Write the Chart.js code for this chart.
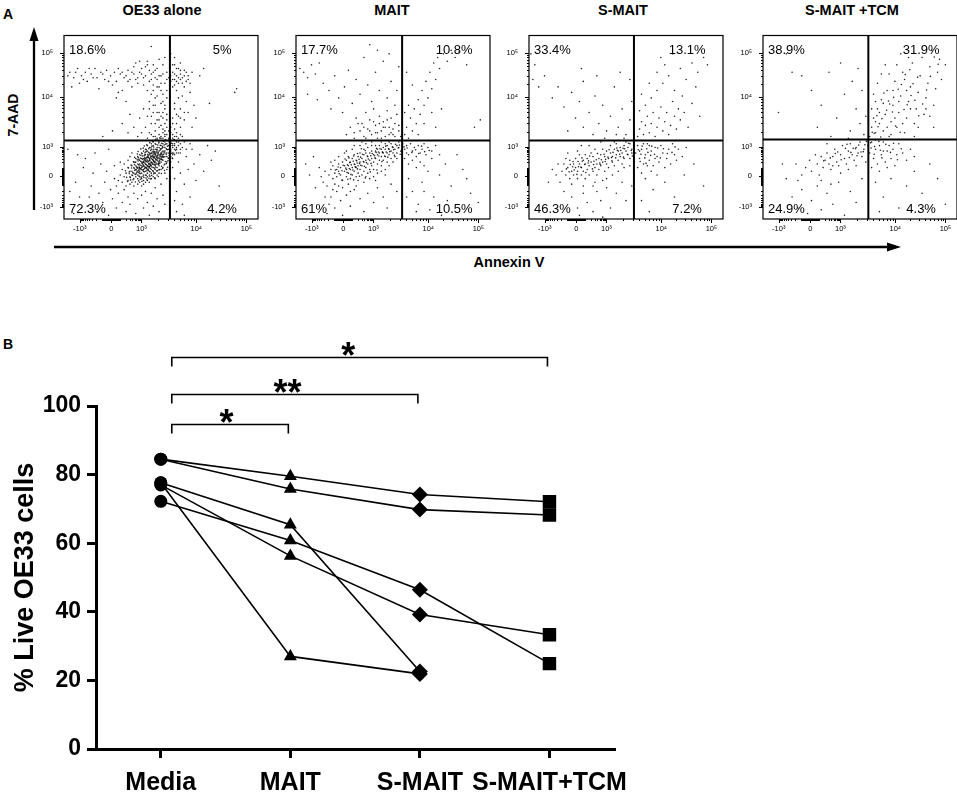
<!DOCTYPE html>
<html>
<head>
<meta charset="utf-8">
<script src="https://cdn.jsdelivr.net/npm/chart.js@4.4.1/dist/chart.umd.min.js"></script>
<style>
  body { margin: 0; background: #fff; }
  #page { position: relative; width: 957px; height: 797px; overflow: hidden; font-family: 'Liberation Sans', Arial, sans-serif; color: #000; }
  .lbl { position: absolute; font-weight: bold; line-height: 1; white-space: nowrap; }
  canvas { position: absolute; }
</style>
</head>
<body>
<div id="page">
  <div class="lbl" style="left:3px;top:7px;font-size:14px">A</div>
  <div class="lbl" style="left:3px;top:337px;font-size:14px">B</div>
  <div class="lbl" style="left:13px;top:115px;font-size:14px;transform:translate(-50%,-50%) rotate(-90deg)">7-AAD</div>
  <div class="lbl" style="left:509px;top:255px;font-size:14.5px;transform:translateX(-50%)">Annexin V</div>
  <svg width="957" height="300" style="position:absolute;left:0;top:0">
    <line x1="34" y1="210" x2="34" y2="38" stroke="#000" stroke-width="2.3"/>
    <polygon points="34,27 29.5,41 38.5,41" fill="#000"/>
    <line x1="54" y1="247" x2="890" y2="247" stroke="#000" stroke-width="2.3"/>
    <polygon points="901,247 887,242.5 887,251.5" fill="#000"/>
  </svg>
</div>
<script>
// ---- panel A: flow plots (dots in display channel units 0-100) ----
const panelTitles = ['OE33 alone', 'MAIT', 'S-MAIT', 'S-MAIT +TCM'];
const quadPct = [
  ['18.6%', '5%', '72.3%', '4.2%'],
  ['17.7%', '10.8%', '61%', '10.5%'],
  ['33.4%', '13.1%', '46.3%', '7.2%'],
  ['38.9%', '31.9%', '24.9%', '4.3%'],
];
const gateX = [54.6, 54.7, 54.1, 54.3];
const gateY = [42.8, 42.8, 42.8, 43.3];
const axisTickText = ['-10³', '0', '10³', '10⁴', '10⁵'];
const xTickPos = [8.1, 24.4, 39.9, 68.2, 94.0];
const yTickPos = [6.4, 23.2, 39.0, 66.5, 90.5];

const oe33Dots = [
  3,80, 5,77, 7,82, 9,78, 11,80, 12,75, 14,79, 16,82, 17,77, 19,80, 21,76, 22,81, 24,78, 26,80, 27,75, 29,79,
  31,77, 33,81, 34,76, 36,79, 38,74, 39,80, 41,77, 42,83, 44,75, 45,79, 47,81, 48,76, 50,78, 51,84, 52,74, 53,80,
  4,72, 8,74, 18,71, 25,73, 30,70, 35,72, 43,70, 46,73, 27,66, 28,69, 32,64, 45,94, 37,85, 40,82, 43,86, 46,84,
  49,87, 52,88, 38,77, 41,73, 44,81, 47,77, 50,74, 53,76,
  2,78, 6,80, 10,76, 13,82, 15,77, 20,79, 23,75, 28,82, 32,78, 35,80, 37,76, 40,79, 42,78, 45,76, 48,82, 51,79,
  54,77, 46,80, 49,78, 43,84, 39,86, 36,83, 33,75, 30,80,
  41,60, 43,56, 44,64, 45,52, 46,58, 47,48, 47,62, 48,54, 48,67, 49,46, 49,58, 50,51, 50,63, 51,47, 51,55, 52,60,
  52,45, 53,50, 53,57, 53,66, 54,48, 44,47, 46,45, 42,50, 50,70, 49,72, 51,68, 45,68, 39,55, 40,47, 43,44, 48,44,
  52,52, 36,50, 38,45, 50,45, 51,49, 53,46, 54,44, 52,48, 49,50, 47,45, 45,46, 30,52, 33,47, 25,48, 20,45, 34,57,
  44,60, 46,62, 48,58, 50,56, 52,62, 47,52, 49,54, 51,58, 53,54, 45,56, 47,66, 51,64, 53,70, 46,70, 48,72,
  56,80, 57,76, 58,78, 59,74, 60,79, 61,77, 62,81, 57,73, 59,82, 63,75, 64,78, 56,84, 60,85, 62,72, 66,80, 65,74,
  58,70, 55,75, 61,67, 63,64, 57,60, 59,56, 56,52, 60,50, 58,47, 62,54, 64,58, 56,46, 57,49, 61,45, 59,44, 66,50,
  68,55, 67,62, 65,69, 70,78, 72,82, 75,63, 89,71, 88,69, 57,88, 55,90, 56,44, 57,45, 58,45, 60,46, 55,47, 55,50,
  58,52, 60,55, 55,78, 56,76, 57,79, 58,75, 59,77, 60,81, 61,74, 62,78, 63,80, 58,82, 57,84, 60,76, 64,76, 56,72,
  59,66, 57,63, 60,60, 58,57, 62,58, 56,55,
  36,25, 37,27, 38,24, 38,28, 39,26, 39,30, 40,25, 40,28, 40,31, 41,27, 41,29, 41,24, 42,26, 42,30, 42,32, 42,28,
  43,27, 43,29, 43,31, 43,34, 43,25, 44,28, 44,30, 44,32, 44,35, 44,26, 45,29, 45,31, 45,33, 45,27, 45,36, 46,28,
  46,30, 46,32, 46,34, 46,37, 47,31, 47,33, 47,35, 47,29, 47,38, 48,32, 48,34, 48,36, 48,30, 48,39, 49,33, 49,35,
  49,37, 49,31, 50,34, 50,36, 50,38, 50,40, 51,35, 51,37, 51,39, 51,41, 52,37, 52,39, 52,42, 53,38, 53,41, 54,40,
  54,43, 37,23, 38,22, 39,23, 40,22, 41,21, 35,24, 36,22, 34,23, 35,26, 37,29, 39,28, 41,33, 42,35, 43,37, 45,38,
  46,40, 44,24, 45,25, 46,26, 47,27, 48,28, 49,29, 50,31, 51,32, 52,34, 53,36, 54,38, 41,31, 42,24, 43,23, 40,29,
  39,32, 40,33, 44,33, 46,35, 48,37, 50,33, 47,36, 49,39, 45,34, 43,32, 42,33, 44,36, 46,38, 50,35, 51,34, 52,36,
  48,38, 47,25, 49,27, 38,30, 36,28, 37,31, 38,26, 39,25, 40,27, 41,26,
  40.5,28.5, 41.5,30.5, 42.5,29.5, 43.5,31.5, 44.5,30.5, 45.5,32.5, 46.5,33.5, 47.5,34.5, 48.5,35.5, 42.5,27.5,
  43.5,28.5, 44.5,29.5, 45.5,30.5, 46.5,31.5, 47.5,32.5, 48.5,33.5, 49.5,34.5, 41.5,32.5, 42.5,33.5, 43.5,34.5,
  44.5,35.5, 45.5,36.5, 39.5,27.5, 40.5,26.5, 41.5,27.5, 43.5,26.5, 44.5,27.5, 46.5,29.5, 47.5,30.5, 49.5,32.5,
  50.5,33.5, 38.5,29.5, 39.5,31.5, 40.5,32.5, 41.5,34.5, 43.5,33.5, 45.5,34.5, 47.5,36.5, 49.5,37.5, 50.5,36.5,
  37.5,25.5, 38.5,26.5, 42.5,31.5, 44.5,33.5, 46.5,35.5, 48.5,31.5, 50.5,38.5, 51.5,36.5, 36.5,26.5, 40.5,30.5,
  35.3,23.7, 36.7,24.3, 37.3,26.7, 38.7,27.3, 39.3,24.7, 40.7,23.3, 41.3,25.7, 42.7,26.3, 43.3,28.7, 44.7,29.3,
  45.3,28.3, 46.7,30.7, 47.3,28.3, 48.7,29.7, 49.3,30.3, 50.7,32.3, 51.3,33.7, 52.7,35.3, 53.3,37.7, 54.7,39.3,
  36.3,29.7, 37.7,32.3, 38.3,33.3, 39.7,34.7, 40.3,35.7, 41.7,35.3, 42.3,36.7, 43.7,38.3, 44.7,37.3, 45.3,39.7,
  46.3,36.3, 47.7,37.7, 48.3,40.3, 49.7,38.3, 50.3,41.3, 51.7,40.3, 52.3,43.3, 39.3,21.7, 42.3,22.3, 44.3,23.3,
  46.3,24.7, 48.3,26.3, 50.3,28.7, 52.3,31.3, 53.7,33.3, 34.3,21.3, 33.7,24.7, 32.3,22.7, 31.7,26.3, 41.7,28.3,
  42.3,29.7, 43.7,30.3, 44.3,31.7, 45.7,32.3, 46.3,33.3, 47.7,33.7, 48.3,34.7, 49.7,35.3, 50.3,35.7, 40.3,30.3,
  41.3,31.7, 42.7,32.7, 43.3,33.7, 44.7,34.3, 45.3,35.7, 46.7,36.7, 38.7,28.3, 39.3,29.3, 40.7,29.7, 37.7,27.7,
  38.3,25.3, 44.3,25.7, 45.7,26.3, 46.7,27.7, 47.3,29.7, 48.7,30.3, 49.3,31.7, 50.7,34.3, 51.3,35.3, 52.7,38.3,
  53.3,39.7, 55.3,41.3, 56.7,43.3, 54.3,41.7,
  33.2,27.8, 34.6,29.4, 35.8,31.2, 36.4,33.6, 37.8,35.4, 38.2,36.8, 39.6,38.2, 40.8,38.6, 41.4,39.8, 42.6,40.4,
  44.2,41.6, 45.8,42.2, 47.2,43.4, 49.4,44.2, 32.8,20.4, 34.2,22.6, 35.6,21.4, 36.8,20.2, 38.4,20.8, 40.2,20.6,
  42.8,21.4, 44.6,21.8, 46.8,22.4, 48.6,23.2, 50.2,24.8, 51.8,26.4, 53.4,28.2, 54.6,30.8, 55.8,33.2, 56.6,35.8,
  57.6,37.4, 37.2,24.6, 38.6,23.4, 39.8,22.8, 41.2,22.6, 42.4,23.8, 43.8,22.2, 45.2,23.8, 46.4,25.2, 47.8,26.2,
  49.2,26.8, 50.8,27.6, 51.6,29.4, 52.8,30.2, 53.6,31.8, 54.2,34.6, 55.4,35.8, 38.2,31.6, 39.4,33.2, 40.6,34.4,
  41.8,36.2, 42.4,37.8, 43.6,36.4, 44.8,38.8, 46.2,39.2, 47.4,40.6, 48.8,41.4, 49.6,40.2, 50.8,39.6, 51.2,42.4,
  52.4,40.8, 53.8,42.6, 41.2,28.8, 42.6,28.2, 43.4,27.2, 44.2,28.6, 45.6,29.8, 46.2,31.4, 47.4,32.2, 48.2,32.8,
  49.4,33.8, 50.2,32.4, 45.2,30.6, 43.8,29.6, 42.2,31.2, 41.6,33.4, 44.2,32.6, 46.8,34.2, 48.6,36.2, 47.2,35.4,
  45.8,33.8, 43.2,35.2, 40.8,31.2, 39.2,27.2, 38.6,32.4, 36.2,27.4, 35.4,25.2, 34.8,27.8, 33.6,25.6, 36.6,30.8,
  37.4,28.4,
  30,20, 31,23, 32,18, 32,25, 33,21, 33,28, 34,19, 34,26, 35,29, 35,20, 36,31, 36,18, 37,33, 38,19, 38,34, 39,20,
  39,35, 40,18, 40,36, 41,19, 41,37, 42,20, 42,38, 43,21, 43,40, 44,20, 44,39, 45,22, 45,41, 46,23, 46,42, 47,22,
  47,41, 48,24, 48,43, 49,25, 49,42, 50,27, 50,44, 51,28, 51,44, 52,30, 52,46, 53,31, 53,34, 54,33, 54,36, 55,37,
  55,40, 56,39, 56,41, 57,40, 57,43, 58,42, 58,38, 55,34, 56,36, 57,35, 59,40, 60,38, 59,36, 29,24, 28,21, 30,27,
  31,30, 27,18, 26,22, 33,32, 34,34, 35,36, 53,27, 55,31, 52,25, 56,33,
  5,3, 8,12, 10,28, 12,7, 14,18, 15,25, 17,4, 18,14, 19,30, 20,9, 21,20, 22,26, 23,2, 24,16, 25,11, 26,29, 27,6,
  28,14, 29,31, 30,9, 31,16, 32,4, 33,12, 34,8, 36,14, 37,3, 38,11, 40,13, 41,6, 42,15, 43,9, 44,2, 45,14, 46,7,
  47,17, 48,11, 49,4, 50,19, 51,13, 52,8, 53,22, 6,20, 11,33, 16,36, 23,38, 13,12, 9,6, 3,15, 2,38, 7,35,
  56,28, 57,22, 58,15, 59,31, 60,25, 61,8, 62,19, 63,34, 64,27, 65,12, 66,38, 67,30, 68,21, 70,35, 72,26, 74,40,
  76,32, 78,37, 80,18, 58,4, 62,2, 57,10, 55,38, 56,40, 57,41, 58,39, 59,42, 60,41, 61,39, 62,42, 56,35, 58,36,
  60,36, 63,38, 65,41, 55,42, 57,38,
];

const maitDots = [
  17,24, 18,27, 19,22, 19,29, 20,25, 21,27, 21,23, 22,30, 22,26, 23,24, 23,28, 24,31, 24,21, 25,26, 25,29, 26,23,
  26,27, 26,32, 27,25, 27,29, 27,34, 28,22, 28,27, 28,31, 29,24, 29,28, 29,33, 30,26, 30,30, 30,35, 31,23, 31,28,
  31,32, 32,25, 32,29, 32,34, 33,27, 33,31, 33,36, 34,24, 34,29, 34,33, 35,26, 35,31, 35,35, 35,38, 36,28, 36,32,
  36,36, 37,25, 37,30, 37,34, 37,39, 38,27, 38,32, 38,36, 39,29, 39,33, 39,37, 39,40, 40,31, 40,35, 40,27, 41,33,
  41,37, 41,40, 42,30, 42,35, 42,38, 43,32, 43,36, 43,40, 44,34, 44,38, 44,29, 45,36, 45,39, 45,32, 46,34, 46,38,
  46,41, 47,36, 47,40, 47,31, 48,35, 48,38, 49,37, 49,41, 49,33, 50,36, 50,39, 51,38, 51,34, 52,40, 52,36, 53,39,
  53,42, 54,37, 28.5,29.5, 30.5,28.5, 31.5,30.5, 27.5,27.5, 29.5,31.5, 32.5,32.5, 26.5,29.5, 40.5,34.5, 42.5,36.5,
  44.5,36.5, 38.5,34.5, 41.5,38.5, 46.5,36.5,
  20.3,26.7, 21.7,28.3, 22.3,24.7, 23.7,26.3, 24.3,29.3, 25.7,27.7, 26.3,25.3, 27.7,30.7, 28.3,24.3, 29.3,26.7,
  30.7,28.3, 31.3,31.7, 32.7,30.3, 33.3,33.7, 34.7,31.3, 35.3,28.7, 36.7,34.3, 37.3,32.7, 38.7,30.3, 39.3,35.7,
  40.7,33.3, 41.3,36.3, 42.7,34.3, 43.3,38.3, 44.7,36.3, 45.7,34.3, 46.3,39.7, 47.7,38.3, 48.3,36.7, 49.7,39.3,
  50.3,37.7, 51.3,40.7, 52.7,38.7, 53.3,40.3, 25.3,32.7, 27.3,33.3, 29.7,34.3, 31.7,35.7, 33.7,38.3, 35.7,37.3,
  23.7,21.3, 26.7,21.7, 29.7,21.3, 32.7,23.3, 35.7,22.3, 38.3,25.7, 41.7,26.7, 44.3,31.3, 47.3,33.7, 50.7,34.7,
  53.7,35.3, 30.3,29.7, 31.7,27.3, 33.3,29.3, 34.3,35.3, 36.3,30.7,
  14,20, 15,26, 16,18, 18,31, 20,19, 22,34, 24,17, 25,36, 27,19, 29,38, 31,18, 33,40, 35,20, 36,41, 38,22, 40,23,
  42,25, 44,26, 46,27, 48,29, 50,31, 52,33, 13,23, 12,28, 20,32, 26,37, 30,40, 34,42, 39,42, 44,42, 48,42, 32,21,
  36,23, 41,21, 46,24,
  16,3, 17,8, 18,12, 20,6, 21,15, 23,10, 24,2, 26,13, 28,7, 30,16, 33,11, 35,4, 37,14, 40,9, 42,17, 45,12, 47,6,
  49,19, 52,15, 19,16, 15,12, 22,18, 28,15, 10,17, 7,24, 5,30, 9,34,
  56,38, 57,40, 58,35, 59,41, 60,37, 61,39, 62,34, 63,40, 64,36, 65,38, 66,41, 67,35, 68,39, 70,37, 72,40, 74,35,
  56,33, 58,30, 60,32, 62,28, 64,31, 66,29, 70,33, 55,41, 57,36, 57.3,38.7, 59.7,36.3, 61.7,37.7, 63.3,35.7,
  64.7,39.7, 66.3,36.7, 68.7,37.3, 55.7,39.3,
  58,22, 60,15, 63,8, 65,20, 68,26, 71,12, 74,24, 77,30, 80,18, 83,35, 86,27, 90,14, 94,9, 62,4, 69,5, 75,2, 57,12,
  66,15, 78,10, 88,22,
  26,46, 28,50, 30,44, 31,55, 33,48, 34,52, 35,45, 36,58, 37,49, 38,54, 39,46, 40,60, 41,51, 42,44, 43,56, 44,48,
  45,53, 46,45, 47,59, 48,50, 49,55, 50,46, 51,52, 52,57, 53,48, 54,45, 36,44, 41,47, 46,50, 50,49, 44,44, 48,46,
  30,47, 32,52, 35,50, 38,48, 40,53, 42,47, 45,50, 47,54, 49,47, 51,45, 53,51, 43,52,
  2,82, 4,80, 6,77, 8,84, 10,79, 12,85, 14,74, 17,70, 20,78, 22,66, 25,72, 27,81, 29,63, 31,76, 33,68, 35,88, 37,73,
  39,64, 41,80, 43,70, 45,86, 47,66, 49,75, 51,62, 53,83, 18,60, 24,58, 11,65, 6,68, 42,92, 38,95, 52,70, 48,90,
  56,46, 57,50, 58,44, 59,55, 60,48, 61,60, 62,52, 63,65, 64,57, 65,70, 66,62, 67,75, 68,66, 69,80, 70,71, 71,85,
  72,76, 73,88, 74,82, 76,90, 78,86, 80,92, 82,88, 84,91, 88,84, 95,54, 92,50, 58,62, 60,73, 57,80, 56,58, 70,58,
  75,60, 66,52, 63,46, 72,50,
];

const smaitDots = [
  17,26, 18,30, 19,24, 20,28, 21,32, 21,22, 22,26, 23,30, 23,24, 24,28, 24,33, 25,22, 25,26, 26,30, 26,35, 27,24,
  27,28, 28,32, 28,26, 29,22, 29,30, 29,35, 30,27, 30,33, 31,24, 31,29, 32,31, 32,36, 33,26, 33,34, 34,28, 34,38,
  35,30, 35,24, 36,33, 36,27, 37,35, 37,29, 38,31, 38,38, 39,26, 39,34, 40,30, 40,37, 41,33, 41,28, 42,36, 42,40,
  43,31, 43,34, 44,38, 44,29, 45,35, 45,41, 46,32, 46,37, 47,39, 47,34, 48,36, 48,30, 49,40, 49,33, 50,37, 50,42,
  51,35, 51,39, 52,41, 52,33, 53,38, 53,36, 54,40, 54,34, 25.5,28.5, 27.5,31.5, 30.5,30.5, 33.5,31.5, 36.5,30.5,
  39.5,32.5, 42.5,33.5, 45.5,37.5, 48.5,38.5, 22.5,28.5,
  19.3,27.3, 20.7,25.7, 21.3,29.7, 22.7,31.3, 23.3,26.7, 24.7,24.3, 25.3,31.3, 26.7,28.3, 27.3,33.3, 28.7,29.7,
  29.3,25.3, 30.7,31.7, 31.3,34.3, 32.7,27.3, 33.3,29.7, 34.7,32.3, 35.3,35.7, 36.7,29.7, 37.3,32.3, 38.7,35.3,
  39.3,31.3, 40.7,33.7, 41.3,37.7, 42.7,31.7, 43.3,36.3, 44.7,33.3, 45.3,38.7, 46.7,35.3, 47.3,37.3, 48.7,33.7,
  49.3,38.3, 50.7,35.3, 51.3,41.3, 52.7,37.3, 53.3,34.3,
  14,24, 15,30, 16,20, 19,33, 22,19, 25,37, 28,18, 31,40, 34,20, 37,42, 40,22, 43,24, 46,26, 49,28, 52,29, 12,27,
  20,36, 27,40, 33,18, 38,21, 44,42,
  22,12, 25,6, 28,14, 30,9, 33,4, 35,15, 37,10, 40,17, 42,6, 45,14, 48,20, 50,10, 18,15, 26,2, 38,1, 53,18, 10,20,
  55,36, 56,40, 57,33, 58,38, 59,30, 60,35, 61,41, 62,32, 63,37, 64,29, 65,39, 66,34, 67,31, 68,40, 69,36, 70,28,
  71,33, 72,38, 73,30, 74,41, 75,35, 76,32, 77,38, 79,34, 81,39, 56,28, 58,25, 60,22, 63,26, 66,24, 59,41, 62,40,
  57,37, 61,29, 65,33, 56.3,37.7, 57.7,35.3, 58.3,39.7, 59.7,33.3, 60.7,38.3, 61.3,36.3, 62.7,34.7, 63.3,39.7,
  64.7,35.3, 66.3,38.7, 67.7,33.3, 69.3,38.3, 71.3,35.7, 73.7,36.3, 75.3,39.3, 57.3,31.3, 60.3,30.3,
  58,10, 64,16, 70,20, 75,12, 80,24, 85,30, 62,4, 90,18,
  56,45, 57,49, 58,53, 59,46, 60,51, 61,56, 62,47, 63,52, 64,58, 65,45, 66,50, 67,55, 68,61, 69,48, 70,53, 71,58,
  72,46, 73,51, 74,64, 75,56, 76,49, 77,60, 78,54, 79,67, 80,58, 82,50, 84,63, 86,72, 88,56, 60,62, 63,66, 66,70,
  69,74, 72,78, 75,70, 78,82, 81,76, 84,85, 87,80, 90,88, 92,84, 70,84, 66,80, 62,74, 58,68, 57,59, 74,90, 68,88,
  2,76, 5,72, 8,78, 12,66, 15,72, 18,61, 22,69, 26,64, 28,75, 31,58, 34,67, 36,52, 38,62, 40,48, 42,56, 44,72,
  46,50, 48,60, 50,46, 52,54, 53,64, 49,44, 45,46, 39,44, 33,46, 28,50, 24,55, 20,48, 3,84, 1,90, 27,82, 35,78,
  47,80, 52,76, 54,47,
];

const tcmDots = [
  28,30, 30,34, 31,28, 32,32, 33,36, 34,30, 35,27, 36,34, 37,38, 38,31, 39,29, 40,35, 41,40, 42,33, 43,30, 44,37,
  45,41, 46,35, 47,32, 48,39, 49,36, 50,42, 51,34, 52,38, 53,31, 54,40, 55,36, 56,42, 57,33, 58,38, 59,30, 60,40,
  61,35, 62,42, 63,31, 64,37, 65,40, 66,33, 67,38, 68,29, 69,35, 70,41, 72,36, 74,32, 76,38, 78,34, 56,28, 60,26,
  64,28, 58,43, 62,37, 25,26, 27,35, 29,24, 33,41, 36,29, 40,25, 44,27, 48,29, 22,28, 20,24, 24,32, 18,21,
  46.5,38.5, 50.5,36.5, 52.5,40.5, 44.5,33.5, 48.5,34.5, 57.5,39.5, 60.5,37.5, 55.5,41.5, 42.5,38.5, 38.5,36.5,
  45.3,36.3, 47.7,38.3, 49.3,40.3, 51.7,36.7, 53.3,42.3, 55.7,38.7, 57.3,35.3, 59.7,42.3, 61.3,33.3, 63.3,40.7,
  65.7,36.3, 67.3,41.3, 69.3,32.3, 71.3,38.3, 40.3,32.3, 37.3,35.7, 34.7,33.3, 31.3,31.7, 43.3,40.7,
  15,12, 18,6, 20,16, 23,3, 25,10, 28,18, 30,5, 33,14, 36,8, 39,20, 42,2, 45,15, 48,9, 51,22, 12,22, 10,30, 17,30,
  30,21, 35,19,
  58,20, 62,12, 66,22, 70,6, 74,18, 78,26, 82,14, 86,30, 90,22, 94,8, 60,4,
  55,45, 56,50, 57,55, 58,47, 59,60, 60,52, 61,65, 62,48, 63,57, 64,70, 65,45, 66,53, 67,62, 68,75, 69,50, 70,58,
  71,67, 72,80, 73,47, 74,55, 75,64, 76,72, 77,85, 78,52, 79,60, 80,69, 81,78, 82,88, 83,57, 84,66, 85,74, 86,83,
  87,92, 88,62, 89,71, 90,80, 91,87, 92,76, 57,68, 59,74, 61,79, 63,84, 58,64, 60,58, 62,63, 64,50, 66,46, 68,55,
  70,64, 72,52, 74,70, 76,60, 78,45, 80,50, 71,90, 75,88, 56,60, 58,53, 65,79, 67,70, 69,84, 73,76, 84,60, 86,56,
  88,50, 94,84,
  57.3,46.7, 59.3,50.3, 61.3,54.7, 63.7,59.3, 65.3,62.7, 67.3,66.3, 69.7,70.7, 71.3,73.3, 73.3,78.7, 75.7,81.3,
  77.3,73.7, 79.7,77.3, 62.3,68.7, 64.7,64.3, 66.7,58.3, 68.3,50.7, 70.7,47.3, 72.7,59.7, 74.3,62.3, 76.3,67.3,
  78.3,64.7, 80.3,56.3, 82.3,62.7, 84.3,70.3, 86.3,77.7, 88.3,88.3, 90.3,84.3, 58.7,56.3, 60.7,44.7, 56.3,47.3,
  12,90, 15,80, 20,78, 25,70, 30,62, 34,80, 38,55, 42,68, 45,48, 48,60, 50,52, 52,46, 53,56, 46,75, 40,85, 28,50,
  8,58, 35,45, 44,44, 51,70, 49,82,
];

// ---- panel B ----
const groups = ['Media', 'MAIT', 'S-MAIT', 'S-MAIT+TCM'];
const donor1 = [84.5, 79.5, 74.2, 72.1];
const donor2 = [84.5, 75.8, 69.8, 68.2];
const donor3 = [77.6, 65.4, 22.6, null];
const donor4 = [77.6, 27.0, 21.9, null];
const donor5 = [77.0, 56.3, 39.2, 33.3];
const donor6 = [72.2, 60.8, 46.4, 24.9];
const compTo = [1, 2, 3];
const compStars = ['*', '**', '*'];

Chart.defaults.font.family = "'Liberation Sans', Arial, sans-serif";
Chart.defaults.color = '#000';

const page = document.getElementById('page');
const frameLeft = [64, 296, 529, 763];
const titleX = [162, 392, 623, 852];

// tick values of the biexponential axis, placed between the labelled decades
const biexTicks = [{ v: -1000, major: true }, { v: 0, major: true }, { v: 100000, major: true }];
for (let k = 1; k <= 9; k++) {
  biexTicks.push({ v: k * 10 }, { v: -k * 10 }, { v: k * 100 }, { v: -k * 100 },
    { v: k * 1000, major: k === 1 }, { v: k * 10000, major: k === 1 });
}

function biexPos(v, p) {
  if (Math.abs(v) <= 1000) {
    const f = Math.asinh(Math.abs(v) / 100) / Math.asinh(10);
    return v >= 0 ? p[1] + f * (p[2] - p[1]) : p[1] - f * (p[1] - p[0]);
  }
  if (v <= 10000) return p[2] + Math.log10(v / 1000) * (p[3] - p[2]);
  return p[3] + Math.log10(v / 10000) * (p[4] - p[3]);
}

function flowDecor(i) {
  return {
    id: 'flowDecor',
    afterDatasetsDraw(chart) {
      const { ctx, chartArea: a, scales: { x, y } } = chart;
      ctx.save();
      ctx.strokeStyle = '#000';
      ctx.lineWidth = 1;
      for (const t of biexTicks) {
        const len = t.major ? 4 : 2;
        const px = Math.round(x.getPixelForValue(biexPos(t.v, xTickPos))) + 0.5;
        if (px >= a.left && px <= a.right) {
          ctx.beginPath(); ctx.moveTo(px, a.bottom); ctx.lineTo(px, a.bottom + len); ctx.stroke();
        }
        const py = Math.round(y.getPixelForValue(biexPos(t.v, yTickPos))) + 0.5;
        if (py >= a.top && py <= a.bottom) {
          ctx.beginPath(); ctx.moveTo(a.left, py); ctx.lineTo(a.left - len, py); ctx.stroke();
        }
      }
      ctx.lineWidth = 1.2;
      ctx.strokeRect(a.left, a.top, a.right - a.left, a.bottom - a.top);
      ctx.lineWidth = 2;
      const gx = x.getPixelForValue(gateX[i]);
      const gy = y.getPixelForValue(gateY[i]);
      ctx.beginPath();
      ctx.moveTo(gx, a.top); ctx.lineTo(gx, a.bottom);
      ctx.moveTo(a.left, gy); ctx.lineTo(a.right, gy);
      ctx.stroke();
      ctx.fillStyle = '#000';
      ctx.font = "13px 'Liberation Sans', Arial, sans-serif";
      const pct = quadPct[i];
      const rx = x.getPixelForValue(81.5);
      ctx.textAlign = 'left';
      ctx.fillText(pct[0], a.left + 5, a.top + 18);
      ctx.fillText(pct[2], a.left + 5, a.bottom - 6);
      ctx.textAlign = 'center';
      ctx.fillText(pct[1], rx, a.top + 18);
      ctx.fillText(pct[3], rx, a.bottom - 6);
      ctx.restore();
    }
  };
}

[oe33Dots, maitDots, smaitDots, tcmDots].forEach((dots, i) => {
  const t = document.createElement('div');
  t.className = 'lbl';
  t.style.cssText = `left:${titleX[i]}px;top:3px;font-size:14.5px;transform:translateX(-50%)`;
  t.textContent = panelTitles[i];
  page.appendChild(t);

  const cv = document.createElement('canvas');
  cv.width = 238; cv.height = 221;
  cv.style.left = (frameLeft[i] - 42) + 'px';
  cv.style.top = '20px';
  page.appendChild(cv);

  const pts = [];
  for (let k = 0; k < dots.length; k += 2) pts.push({ x: dots[k], y: dots[k + 1] });

  new Chart(cv, {
    type: 'scatter',
    data: {
      datasets: [{
        data: pts,
        pointRadius: 0.8,
        pointHoverRadius: 0.8,
        pointBorderWidth: 0,
        backgroundColor: 'rgba(0,0,0,0.85)',
      }],
    },
    options: {
      responsive: false,
      animation: false,
      events: [],
      layout: { padding: { top: 5, right: 2, left: 0, bottom: 0 } },
      plugins: { legend: { display: false }, tooltip: { enabled: false } },
      scales: {
        x: {
          min: 0, max: 100,
          afterBuildTicks: (s) => { s.ticks = xTickPos.map(v => ({ value: v })); },
          afterFit: (s) => { s.height = 22; },
          ticks: { callback: (v, k) => axisTickText[k], font: { size: 7.5 }, padding: 5, maxRotation: 0, autoSkip: false },
          grid: { display: false, drawTicks: false },
          border: { display: false },
        },
        y: {
          min: 0, max: 100,
          afterBuildTicks: (s) => { s.ticks = yTickPos.map(v => ({ value: v })); },
          afterFit: (s) => { s.width = 42; },
          ticks: { callback: (v, k) => axisTickText[k], font: { size: 7.5 }, padding: 11, autoSkip: false },
          grid: { display: false, drawTicks: false },
          border: { display: false },
        },
      },
    },
    plugins: [flowDecor(i)],
  });
});

// ---- panel B chart ----
const markerStyle = ['circle', 'triangle', 'rectRot', 'rect'];
const markerRadius = [6.5, 7.5, 8, 9.5];

const bracketPlugin = {
  id: 'brackets',
  afterDraw(chart) {
    const { ctx, scales: { x, y } } = chart;
    const levels = [94.8, 103.5, 114.3];
    ctx.save();
    ctx.strokeStyle = '#000';
    ctx.fillStyle = '#000';
    ctx.lineWidth = 1.6;
    ctx.font = "bold 36px 'Liberation Sans', Arial, sans-serif";
    ctx.textAlign = 'center';
    compTo.forEach((to, i) => {
      const x1 = x.getPixelForValue(0) + 11;
      const x2 = x.getPixelForValue(to) - 2;
      const yy = Math.round(y.getPixelForValue(levels[i])) + 0.5;
      ctx.beginPath();
      ctx.moveTo(x1, yy + 9); ctx.lineTo(x1, yy); ctx.lineTo(x2, yy); ctx.lineTo(x2, yy + 9);
      ctx.stroke();
      ctx.fillText(compStars[i], x1 + 0.47 * (x2 - x1), yy + 10);
    });
    ctx.restore();
  }
};

const cvB = document.createElement('canvas');
cvB.width = 640; cvB.height = 467;
cvB.style.left = '0px';
cvB.style.top = '330px';
page.appendChild(cvB);

new Chart(cvB, {
  type: 'line',
  data: {
    datasets: [donor1, donor2, donor3, donor4, donor5, donor6].map(d => ({
      data: d.map((v, i) => ({ x: i, y: v })).filter(p => p.y !== null),
      borderColor: '#000',
      borderWidth: 1.6,
      backgroundColor: '#000',
      pointBorderWidth: 0,
      pointStyle: (c) => markerStyle[c.raw ? c.raw.x : 0],
      pointRadius: (c) => markerRadius[c.raw ? c.raw.x : 0],
      pointHoverRadius: (c) => markerRadius[c.raw ? c.raw.x : 0],
      tension: 0,
    })),
  },
  options: {
    responsive: false,
    animation: false,
    events: [],
    layout: { padding: { top: 76, right: 25, left: 0, bottom: 0 } },
    plugins: { legend: { display: false }, tooltip: { enabled: false } },
    scales: {
      x: {
        type: 'linear',
        min: -0.5, max: 3.5,
        afterBuildTicks: (s) => { s.ticks = groups.map((g, i) => ({ value: i })); },
        afterFit: (s) => { s.height = 48; },
        ticks: { callback: (v) => groups[v], font: { size: 25, weight: 'bold' }, padding: 10, maxRotation: 0, autoSkip: false },
        grid: { drawOnChartArea: false, drawTicks: true, tickLength: 9, lineWidth: 3, color: '#000' },
        border: { display: true, width: 3, color: '#000' },
      },
      y: {
        min: 0, max: 100,
        afterFit: (s) => { s.width = 96; },
        ticks: { stepSize: 20, font: { size: 23, weight: 'bold' }, padding: 6 },
        grid: { drawOnChartArea: false, drawTicks: true, tickLength: 9, lineWidth: 3, color: '#000' },
        border: { display: true, width: 3, color: '#000' },
        title: { display: true, text: '% Live OE33 cells', font: { size: 27, weight: 'bold' }, padding: { top: 9, bottom: 0 } },
      },
    },
  },
  plugins: [bracketPlugin],
});
</script>
</body>
</html>
